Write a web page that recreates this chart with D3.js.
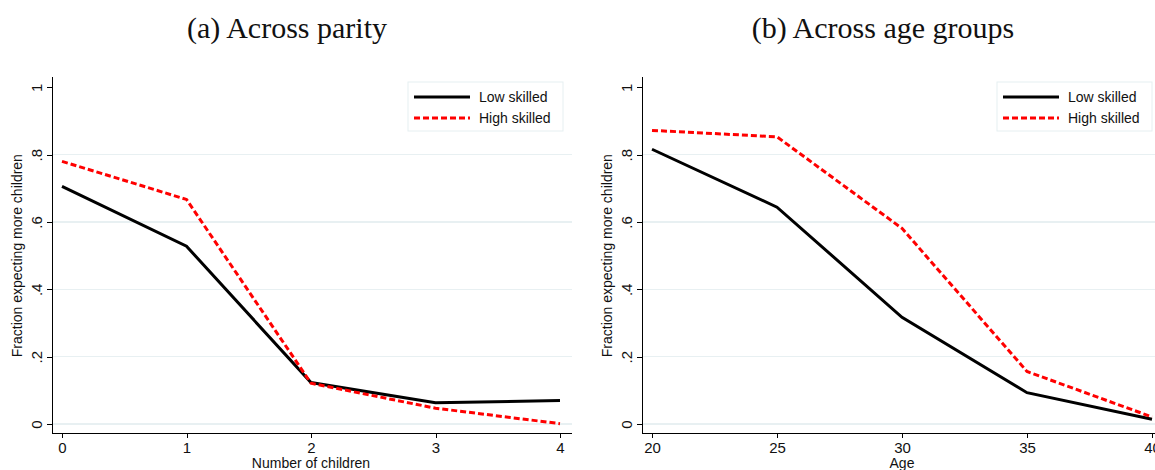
<!DOCTYPE html>
<meta charset="utf-8">
<style>
  body { margin: 0; background: #fff; }
  svg { font-family: "Liberation Sans", Arial, sans-serif; }
  .title { font-family: "Liberation Serif", "DejaVu Serif", serif; font-size: 30px; fill: #111; }
  .axis path, .axis line { fill: none; stroke: #000; shape-rendering: crispEdges; }
  .axis text { fill: #111; font-size: 15px; }
  .grid line { stroke: #e8f0f2; stroke-width: 1.5; shape-rendering: crispEdges; }
  .lab { font-size: 14px; fill: #111; }
</style>
<body>
<script src="https://d3js.org/d3.v7.min.js"></script>
<script>
// panel (a): by number of children
var parity = [0, 1, 2, 3, 4];
var parityLow = [0.706, 0.528, 0.123, 0.063, 0.070];
var parityHigh = [0.780, 0.667, 0.121, 0.047, 0.001];

// panel (b): by age group
var ages = [20, 25, 30, 35, 40];
var ageLow = [0.816, 0.644, 0.317, 0.093, 0.014];
var ageHigh = [0.872, 0.853, 0.581, 0.156, 0.021];

var yTicks = [0, 0.2, 0.4, 0.6, 0.8, 1];
var seriesNames = ["Low skilled", "High skilled"];

var svg = d3.select("body").append("svg")
  .attr("width", 1155)
  .attr("height", 470);

function fmt(d) { return d === 0 ? "0" : d === 1 ? "1" : d3.format(".1f")(d).replace(/^0/, ""); }

function panel(opt) {
  var g = svg.append("g");
  var x = d3.scaleLinear().domain(d3.extent(opt.xs)).range([opt.x0, opt.x1]);
  var y = d3.scaleLinear().domain([0, 1]).range([424, 87.3]);

  // grid
  g.append("g").attr("class", "grid")
    .selectAll("line").data(yTicks.filter(function(d) { return d < 1; }))
    .enter().append("line")
    .attr("x1", opt.axisX + 1).attr("x2", opt.right)
    .attr("y1", function(d) { return y(d); })
    .attr("y2", function(d) { return y(d); });

  // y axis
  var yAx = g.append("g").attr("class", "axis")
    .attr("transform", "translate(" + opt.axisX + ",0)")
    .call(d3.axisLeft(y).tickValues(yTicks).tickFormat(fmt).tickSize(5).tickSizeOuter(0));
  yAx.select(".domain").attr("d", "M0.5," + 77 + "V433.5");
  yAx.selectAll("text")
    .attr("transform", "rotate(-90)")
    .attr("x", 0).attr("y", -10)
    .attr("dy", "0")
    .style("text-anchor", "middle");

  // x axis
  var xAx = g.append("g").attr("class", "axis")
    .attr("transform", "translate(0,433)")
    .call(d3.axisBottom(x).tickValues(opt.xs).tickFormat(d3.format("d")).tickSize(5).tickSizeOuter(0));
  xAx.select(".domain").attr("d", "M" + opt.axisX + ",0.5H" + opt.right);
  xAx.selectAll("text").attr("y", 9);

  // axis titles
  g.append("text").attr("class", "lab")
    .attr("x", (opt.x0 + opt.x1) / 2).attr("y", 468)
    .attr("text-anchor", "middle").text(opt.xTitle);
  g.append("text").attr("class", "lab")
    .attr("transform", "translate(" + (opt.axisX - 30) + "," + y(0.5) + ") rotate(-90)")
    .attr("text-anchor", "middle").text("Fraction expecting more children");

  // lines
  var line = d3.line()
    .x(function(d) { return x(d[0]); })
    .y(function(d) { return y(d[1]); });
  g.append("path")
    .datum(d3.zip(opt.xs, opt.low))
    .attr("d", line)
    .attr("fill", "none").attr("stroke", "#000").attr("stroke-width", 3);
  g.append("path")
    .datum(d3.zip(opt.xs, opt.high))
    .attr("d", line)
    .attr("fill", "none").attr("stroke", "#ff0000").attr("stroke-width", 3)
    .attr("stroke-dasharray", "6,3");

  // title
  svg.append("text").attr("class", "title")
    .attr("x", opt.titleX).attr("y", 38)
    .attr("text-anchor", "middle").text(opt.title);

  // legend
  var lg = g.append("g").attr("transform", "translate(" + opt.legX + ",82)");
  lg.append("rect").attr("width", 155).attr("height", 49)
    .attr("fill", "#fff").attr("stroke", "#e6eff1");
  seriesNames.forEach(function(s, i) {
    var yy = 15 + i * 21;
    lg.append("line").attr("x1", 6).attr("x2", 62).attr("y1", yy).attr("y2", yy)
      .attr("stroke", i === 0 ? "#000" : "#ff0000").attr("stroke-width", 3)
      .attr("stroke-dasharray", i === 0 ? null : "6,3");
    lg.append("text").attr("class", "lab").attr("x", 71).attr("y", yy + 5).text(s);
  });
}

panel({
  xs: parity, low: parityLow, high: parityHigh,
  x0: 62, x1: 560, axisX: 52, right: 572,
  xTitle: "Number of children", title: "(a) Across parity", titleX: 287, legX: 408
});

panel({
  xs: ages, low: ageLow, high: ageHigh,
  x0: 652, x1: 1152, axisX: 642, right: 1160,
  xTitle: "Age", title: "(b) Across age groups", titleX: 883, legX: 997
});
</script>
